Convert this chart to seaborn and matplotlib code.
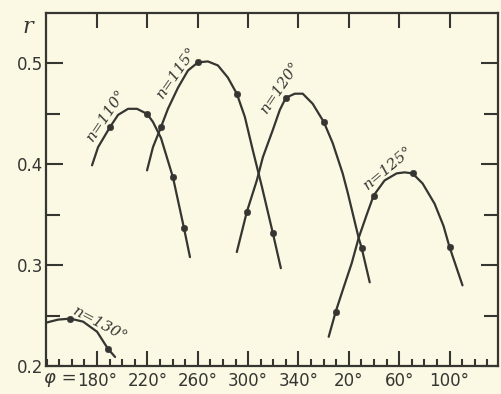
import matplotlib
matplotlib.use("Agg")
import matplotlib.pyplot as plt
from matplotlib.ticker import FixedLocator, MultipleLocator
import seaborn as sns
import pandas as pd

# phi in degrees, continued past 360 so the curves stay in order (380 = 20 deg)
phi_110 = [176.0, 180.8, 190.3, 196.7, 204.6, 211.7, 219.7, 224.4, 230.8, 240.3, 249.0, 253.8]
r_110 = [0.399, 0.417, 0.437, 0.449, 0.455, 0.455, 0.450, 0.442, 0.426, 0.387, 0.337, 0.308]
dots_phi_110 = [190.3, 219.7, 240.3, 249.0]
dots_r_110 = [0.437, 0.450, 0.387, 0.337]

phi_115 = [219.7, 224.4, 230.8, 236.3, 244.3, 252.2, 260.1, 268.0, 276.0, 283.9, 291.0,
           297.4, 303.7, 310.9, 319.6, 326.0]
r_115 = [0.394, 0.417, 0.437, 0.455, 0.476, 0.493, 0.501, 0.502, 0.498, 0.486, 0.470,
         0.447, 0.414, 0.378, 0.332, 0.297]
dots_phi_115 = [230.8, 260.1, 291.0, 319.6]
dots_r_115 = [0.437, 0.501, 0.470, 0.332]

phi_120 = [291.0, 299.0, 306.9, 311.7, 319.6, 325.2, 330.0, 337.1, 343.4, 351.3, 360.1,
           367.2, 375.1, 379.1, 387.8, 390.2, 396.6]
r_120 = [0.313, 0.353, 0.384, 0.407, 0.434, 0.454, 0.466, 0.470, 0.470, 0.460, 0.442,
         0.421, 0.391, 0.372, 0.327, 0.317, 0.283]
dots_phi_120 = [299.0, 330.0, 360.1, 390.2]
dots_r_120 = [0.353, 0.466, 0.442, 0.317]

phi_125 = [364.0, 369.6, 375.1, 382.3, 387.8, 394.2, 399.7, 408.4, 418.0, 424.3, 430.6,
           438.6, 448.1, 455.2, 460.0, 470.3]
r_125 = [0.229, 0.254, 0.275, 0.302, 0.327, 0.350, 0.369, 0.384, 0.391, 0.392, 0.391,
         0.381, 0.361, 0.339, 0.318, 0.280]
dots_phi_125 = [369.6, 399.7, 430.6, 460.0]
dots_r_125 = [0.254, 0.369, 0.391, 0.318]

phi_130 = [139.5, 149.0, 158.6, 168.9, 180.0, 188.7, 194.3]
r_130 = [0.243, 0.246, 0.247, 0.244, 0.234, 0.217, 0.209]
dots_phi_130 = [158.6, 188.7]
dots_r_130 = [0.247, 0.217]

x_ticks = [180, 220, 260, 300, 340, 380, 420, 460]
x_labels = ["180°", "220°", "260°", "300°", "340°", "20°", "60°", "100°"]
y_ticks = [0.2, 0.3, 0.4, 0.5]
y_labels = ["0.2", "0.3", "0.4", "0.5"]

curve_names = ["n=110°", "n=115°", "n=120°", "n=125°", "n=130°"]
label_phi = [187.1, 243.5, 325.2, 411.6, 182.4]
label_r = [0.4485, 0.491, 0.4762, 0.397, 0.2416]
label_angle = [56, 55, 56, 40, -28]

ink = "#353532"
paper = "#fbf8e3"

sns.set_style("ticks")
plt.rcParams["font.family"] = ["DejaVu Sans"]

fig = plt.figure(figsize=(5.01, 3.94), dpi=100, facecolor=paper)
ax = fig.add_axes([0.092, 0.071, 0.902, 0.896])
ax.set_facecolor(paper)

curves = [(phi_110, r_110, dots_phi_110, dots_r_110),
          (phi_115, r_115, dots_phi_115, dots_r_115),
          (phi_120, r_120, dots_phi_120, dots_r_120),
          (phi_125, r_125, dots_phi_125, dots_r_125),
          (phi_130, r_130, dots_phi_130, dots_r_130)]

for phi, r, dphi, dr in curves:
    line = pd.DataFrame({"phi": phi, "r": r})
    dots = pd.DataFrame({"phi": dphi, "r": dr})
    sns.lineplot(data=line, x="phi", y="r", sort=False, color=ink, lw=1.6, ax=ax,
                 solid_joinstyle="round", solid_capstyle="round")
    sns.scatterplot(data=dots, x="phi", y="r", color=ink, s=22, edgecolor=ink, zorder=3, ax=ax)

for name, lx, ly, ang in zip(curve_names, label_phi, label_r, label_angle):
    ax.text(lx, ly, name, rotation=ang, ha="center", va="center", fontsize=11,
            style="italic", family="DejaVu Serif", color=ink)

ax.set_xlim(139.5, 498.5)
ax.set_ylim(0.2, 0.55)
ax.set_xlabel("")
ax.set_ylabel("")

ax.xaxis.set_major_locator(FixedLocator(x_ticks))
ax.set_xticklabels(x_labels)
ax.xaxis.set_minor_locator(MultipleLocator(10))
ax.yaxis.set_major_locator(FixedLocator(y_ticks))
ax.set_yticklabels(y_labels)
ax.yaxis.set_minor_locator(FixedLocator([0.25, 0.35, 0.45]))

ax.tick_params(axis="both", which="both", direction="in", color=ink, labelcolor=ink,
               width=1.5, labelsize=12)
ax.tick_params(axis="x", which="major", length=11, top=True, pad=4)
ax.tick_params(axis="x", which="minor", length=5, top=False)
ax.tick_params(axis="y", which="major", length=12, right=True, pad=2)
ax.tick_params(axis="y", which="minor", length=10, right=True)

for s in ax.spines.values():
    s.set_color(ink)
    s.set_linewidth(1.6)

fig.text(0.153, 0.040, "φ =", fontsize=13, style="italic", color=ink, ha="right", va="center")
fig.text(0.045, 0.915, "r", fontsize=16, style="italic", family="DejaVu Serif", color=ink)

fig.savefig("out.png", dpi=100, facecolor=paper)
